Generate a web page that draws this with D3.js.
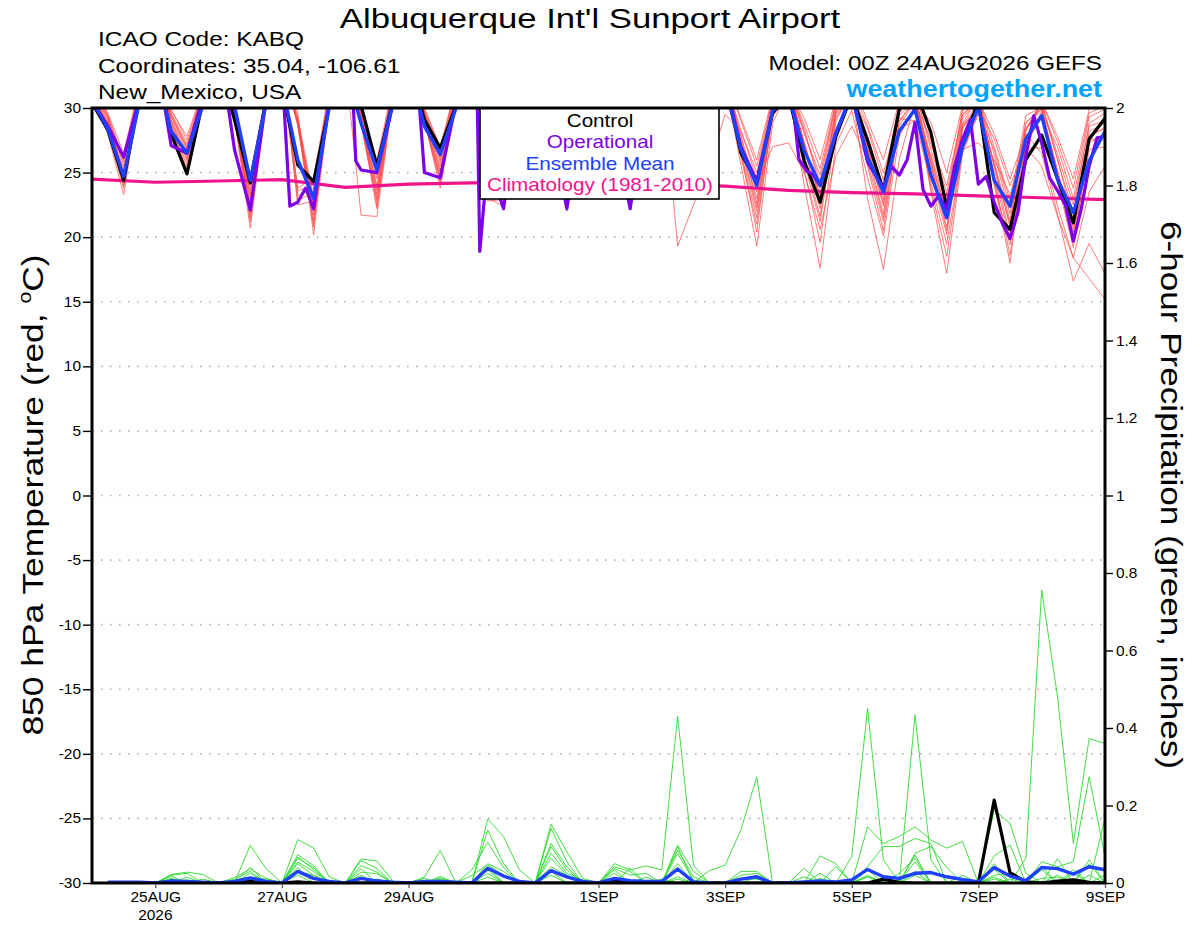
<!DOCTYPE html>
<html><head><meta charset="utf-8">
<script src="https://cdn.jsdelivr.net/npm/d3@7"></script>
<style>body{margin:0;background:#fff} svg{font-family:"Liberation Sans",Arial,Helvetica,sans-serif}</style>
</head><body><svg id="c" width="1200" height="927"></svg>
<script>
// ---------- DATA ----------
const dateTickHours = [24,72,120,192,240,288,336,384];
const dateTickLabels = ["25AUG","27AUG","29AUG","1SEP","3SEP","5SEP","7SEP","9SEP"];
const tempTicks = [-30,-25,-20,-15,-10,-5,0,5,10,15,20,25,30];
const precipTicks = [0,0.2,0.4,0.6,0.8,1,1.2,1.4,1.6,1.8,2];
const legendLabels = ["Control","Operational","Ensemble Mean","Climatology (1981-2010)"];

// 850 hPa temperature, 6-hourly from 00Z 24AUG (65 values)
const controlT = [30.4,28.3,24.4,30.8, 33.4,28.0,24.9,30.5, 33.5,29.1,24.2,30.6, 31.6,25.6,24.3,30.2, 33.3,30.2,25.5,30.5, 33.6,29.1,26.9,30.2, 33.5,29.0,25.0,30.8, 33.4,29.2,24.8,31.0, 33.2,29.0,24.5,30.8, 33.0,28.8,25.0,30.6, 32.1,26.5,24.3,29.6, 31.0,25.9,22.7,27.8, 31.0,27.5,23.6,29.9, 31.5,28.1,22.3,27.3, 30.5,21.9,20.6,26.0, 27.9,24.5,21.1,27.6, 29.2];
const meanT = [30.6,28.4,24.7,30.5, 33.3,28.2,26.5,30.2, 33.4,30.2,24.4,30.4, 31.8,26.0,23.0,30.2, 33.2,28.8,25.2,30.4, 33.4,28.6,26.4,30.0, 33.3,29.0,25.0,30.5, 33.2,29.0,24.8,30.6, 33.0,28.9,24.6,30.5, 32.8,28.6,24.8,30.3, 31.8,26.8,24.0,29.8, 31.0,26.7,24.0,28.1, 31.0,26.2,23.5,28.2, 29.9,24.8,21.5,27.0, 30.1,24.4,22.4,27.6, 29.4,24.5,21.9,25.9, 28.2];
// operational run (hours, values)
const opHours = [0,6,12,18,24,30,36,42,48,51,54,60,66,72,75,78,81,84,90,96,99,100,102,108,114,120,124,126,132,138,144,146,147,150,156,162,168,174,180,186,192,198,204,210,216,222,228,234,240,246,252,258,264,266,268,271,273,276,282,288,294,300,303,306,309,312,315,318,321,324,327,330,333,336,339,342,345,348,351,354,357,360,363,366,369,372,375,378,381,384];
const opT = [30.5,28.6,26.2,30.8,34.5,27.1,26.5,30.8,33.5,31.0,26.8,22.1,30.6,33.0,22.4,22.7,23.8,22.2,30.5,33.0,30.5,25.9,25.2,25.0,30.2,33.0,30.5,25.0,24.6,30.4,33.0,31.0,18.9,26.0,22.2,30.8,33.0,28.5,22.2,30.5,33.0,28.5,22.2,30.5,33.0,28.5,24.5,30.2,32.0,27.0,24.3,29.8,30.6,29.7,26.0,25.1,24.9,24.0,28.0,31.2,25.8,23.8,25.5,24.8,26.0,28.9,23.7,22.4,23.2,22.2,25.5,27.6,29.1,24.1,24.7,22.7,21.1,19.9,21.9,26.3,29.4,27.3,24.6,23.6,22.5,19.7,22.2,25.5,27.7,27.8];
// climatology, daily from 00Z 24AUG
const climT = [24.5,24.25,24.35,24.45,23.85,24.1,24.2,24.2,24.1,24.05,23.95,23.62,23.45,23.35,23.2,23.05,22.9];
// ensemble members (temperature)
const memberT = [
[31.2,28.6,24.0,31.0,33.4,29.0,26.0,30.8,33.6,29.8,23.0,30.6,33.2,28.8,22.0,31.2,33.5,29.4,22.4,30.9,33.8,29.5,25.0,31.3,33.4,29.2,24.5,31.0,33.1,29.0,23.8,31.4,33.0,28.9,25.0,31.1,32.8,28.7,24.5,30.7,32.4,27.8,22.6,30.1,31.8,27.0,23.3,29.6,31.5,26.6,21.8,29.8,31.2,27.2,24.0,29.5,30.8,25.4,20.1,28.4,30.4,26.0,21.9,28.8,29.6],
[30.8,28.9,25.0,31.4,33.2,29.3,26.8,31.2,33.9,30.2,21.5,30.4,33.0,22.8,23.5,31.0,33.4,21.7,21.6,30.7,34.0,29.6,26.0,31.5,33.6,23.0,22.4,30.9,33.3,29.4,24.6,31.2,33.0,29.1,24.2,30.9,32.9,29.5,26.0,31.0,32.2,28.3,24.5,30.5,31.9,26.2,21.6,29.2,31.3,27.8,23.9,30.2,31.0,25.6,20.8,28.8,30.9,27.0,22.8,29.4,30.1,24.2,19.2,27.6,27.5],
[31.0,28.0,23.3,30.9,33.3,28.5,25.5,30.6,33.7,29.9,24.2,31.0,33.4,29.6,20.2,30.5,33.6,28.8,23.0,31.3,33.7,29.0,24.4,30.8,33.5,29.3,25.0,31.2,33.2,28.6,22.0,30.9,33.1,29.4,26.0,31.5,32.7,28.8,23.5,30.8,32.5,26.6,20.4,29.8,31.6,28.0,24.8,30.3,31.8,26.9,22.4,29.6,31.4,26.8,22.9,29.9,30.6,24.2,18.0,27.6,30.5,27.4,23.8,29.6,30.2],
[31.3,29.2,24.5,31.5,33.6,29.6,27.2,31.1,33.5,29.7,22.4,30.8,33.1,23.6,24.0,31.3,33.3,29.2,24.5,31.0,33.9,29.8,26.5,31.6,33.3,28.9,23.6,30.7,33.4,29.7,25.4,31.3,32.9,28.6,23.6,30.6,33.0,29.1,25.0,31.2,32.3,27.9,23.5,30.4,31.4,24.0,17.6,27.2,29.8,24.6,20.1,27.8,30.2,25.8,21.4,28.6,30.0,27.6,24.0,27.0,25.5,21.6,18.4,16.8,15.2],
[31.5,29.4,25.5,31.6,33.2,28.6,26.3,30.5,33.8,29.2,20.7,30.3,33.5,29.0,21.3,30.8,33.2,28.7,22.8,31.1,33.6,29.1,23.8,30.6,33.7,29.6,26.0,31.4,33.0,28.8,22.5,30.8,33.2,29.6,25.5,31.3,32.6,19.3,22.5,25.5,29.5,28.2,25.0,30.6,31.7,27.3,22.8,29.8,32.0,29.0,26.0,30.5,31.0,23.5,17.2,26.5,29.6,25.8,21.3,28.3,30.3,26.4,22.5,28.6,29.0],
[31.1,28.7,24.8,31.2,33.5,28.3,25.8,30.7,33.6,29.6,23.6,31.1,33.4,22.5,22.8,30.6,33.5,29.5,25.2,31.4,33.8,29.3,25.5,31.0,33.2,22.8,22.9,30.8,33.3,29.3,24.0,31.0,33.1,29.0,24.8,31.0,32.8,28.6,24.0,30.5,32.0,25.6,19.3,28.8,31.5,29.2,26.0,30.8,31.2,23.0,17.5,26.0,30.4,27.6,23.4,29.8,30.5,24.0,19.4,27.2,29.8,25.2,20.7,27.9,28.4],
[31.6,29.5,26.0,31.7,33.7,29.9,27.5,31.3,33.4,29.1,22.0,30.5,33.3,28.7,20.8,30.9,33.4,29.1,23.6,31.2,33.9,30.0,27.0,31.7,33.4,29.0,24.0,31.1,33.5,29.8,26.2,31.5,33.0,28.5,23.4,30.6,33.1,29.7,26.5,31.4,31.0,26.8,24.0,27.0,27.3,25.0,20.6,26.3,28.6,26.0,23.4,28.4,29.0,24.2,19.5,26.8,27.3,26.0,23.3,26.9,26.9,22.4,18.4,23.5,25.5],
[31.0,28.4,24.2,31.0,33.3,29.1,26.6,31.0,33.7,30.0,24.8,31.2,33.2,29.3,23.0,31.0,33.6,29.3,24.0,31.2,33.7,29.0,24.8,30.9,33.5,29.5,25.5,31.3,33.1,28.7,22.9,30.8,33.3,29.8,26.5,31.4,32.7,28.9,23.8,30.6,32.3,27.0,22.0,29.9,31.7,28.2,24.3,30.4,31.6,28.6,25.0,29.2,29.0,26.4,22.4,29.4,30.7,25.6,20.8,28.3,30.5,27.8,24.5,29.9,30.5],
[31.4,29.1,25.2,31.3,33.4,28.2,25.3,30.6,33.5,29.4,21.2,30.6,33.3,23.8,24.6,31.5,33.3,28.9,22.2,30.8,33.8,29.7,26.2,31.4,33.3,28.8,23.2,30.9,33.4,29.5,25.0,31.2,33.0,29.0,24.0,30.8,33.0,29.4,25.5,31.1,32.6,29.2,26.0,30.9,31.9,26.9,22.2,29.4,31.4,25.5,20.5,28.9,30.6,28.9,25.0,30.2,30.8,26.4,21.8,28.8,30.2,26.0,21.3,28.2,28.8],
[30.9,28.2,23.8,30.9,33.5,29.4,26.9,31.2,33.6,29.7,23.3,30.9,33.1,28.9,21.7,30.7,33.7,29.8,26.0,31.6,33.7,29.2,25.2,31.1,33.6,29.7,26.5,31.5,33.2,28.9,23.5,30.9,33.2,29.3,25.2,31.2,32.9,29.0,24.2,30.7,32.2,26.6,21.5,29.6,31.8,28.7,25.3,30.5,31.4,27.0,22.9,29.7,30.8,25.0,20.2,28.5,30.2,24.6,18.6,27.0,29.6,27.0,23.0,29.3,29.9],
[31.2,28.8,24.6,31.3,33.6,29.8,27.8,31.4,33.4,29.5,22.7,30.7,33.4,29.1,22.4,31.1,33.4,29.0,23.3,31.0,33.6,28.9,24.2,30.8,33.5,29.4,24.8,31.1,33.3,29.2,24.4,31.2,32.9,28.8,23.8,30.7,32.8,28.7,23.3,30.6,32.4,27.4,23.0,30.2,31.5,25.2,19.6,28.4,31.0,28.4,24.4,30.3,30.9,26.2,21.9,29.2,30.6,28.0,24.5,28.0,26.5,21.8,16.6,19.5,17.2],
[31.5,29.3,25.8,31.5,33.3,28.7,26.1,30.8,33.6,29.3,21.8,30.5,33.2,23.2,23.8,31.4,33.5,29.6,24.8,31.3,33.9,29.9,26.8,31.6,33.4,29.1,23.9,31.0,33.5,29.9,26.0,31.5,33.1,29.6,26.2,31.5,33.0,29.6,25.8,31.3,32.5,29.0,25.5,30.7,31.8,28.4,23.8,30.0,31.2,25.8,21.2,28.6,30.5,23.8,18.5,26.8,29.6,26.8,22.3,28.9,29.9,24.6,20.0,27.3,28.0],
[31.7,29.6,26.5,31.8,33.4,28.9,26.4,30.9,33.7,29.8,24.0,31.0,33.4,28.6,21.0,30.8,33.5,29.7,25.5,31.5,33.8,29.4,25.8,31.2,33.5,29.5,25.2,31.2,33.2,28.8,23.3,30.8,33.1,29.2,24.6,30.9,32.9,28.9,24.7,30.8,32.3,27.2,22.3,29.8,31.6,25.8,21.2,29.0,31.3,26.8,22.6,29.4,30.7,26.0,21.7,28.7,30.4,25.6,21.0,28.3,30.0,25.0,20.4,27.8,28.5],
[31.2,28.9,24.9,31.3,33.5,29.5,27.0,31.2,33.5,29.4,22.2,30.6,33.3,29.0,22.6,31.0,33.4,29.2,23.8,31.1,33.7,29.1,24.6,30.9,33.4,29.2,24.3,31.0,33.4,29.6,25.6,31.4,33.2,29.5,25.8,31.3,33.0,29.8,26.2,31.3,32.1,26.2,21.0,29.3,31.5,27.4,23.0,29.7,31.1,26.3,21.5,29.0,30.7,25.6,20.5,28.4,30.1,24.8,19.8,27.7,29.5,24.6,19.6,26.8,27.0]
];

// 6-hour precipitation (inches), 06Z 24AUG .. 00Z 9SEP (64 values)
const controlP = [0,0,0,0,.004,.002,0,0, 0,.004,0,0,.003,0,0,0, 0,0,0,0,0,0,0,0, 0,0,0,0,0,0,0,0, .008,0,0,0,0,0,0,0, 0,0,0,0,0,0,0,0, 0,.01,.002,0,0,0,0,0, .214,.027,.003,0,.005,.008,.002,0];
const meanP = [.002,.002,.002,0,.005,.004,.002,0, .004,.013,.004,0,.03,.012,.004,0, .012,.005,.002,0,.004,.004,.002,0, .038,.018,.004,0,.032,.016,.004,0, .012,.006,.004,.004,.036,.003,0,0, .01,.016,0,0,.003,.005,.003,.008, .035,.016,.012,.025,.027,.016,.009,.003, .04,.018,.006,.04,.037,.023,.042,.034];
const memberP = [
[0,0,0,0,.022,.028,.022,0, 0,.097,.037,0,.063,.04,0,0, .028,.024,0,0,0,.013,0,0, .165,.12,.034,0,.094,.034,0,0, .025,0,0,0,.098,.03,0,0, 0,0,0,0,0,.07,.05,0, .034,0,0,.434,.06,0,0,0, .02,.025,0,.034,0,.034,0,.167],
[.003,0,0,0,.02,.025,0,0, 0,.041,0,0,.112,.09,.015,0, .062,.057,.005,0,.015,.084,0,0, .137,.05,0,0,.152,.081,.012,0, .05,.034,.044,.034,.43,.046,0,0, .03,.03,0,0,.016,0,0,0, .145,.102,.12,.145,.111,.09,.107,0, .188,.154,.025,0,.063,0,.06,0],
[0,.003,0,0,.018,0,0,0, .014,.036,.012,0,.073,.045,0,0, .058,.037,0,0,0,.017,0,.034, .105,.04,0,0,.141,.055,0,0, .042,.03,0,0,.094,0,.032,.046, .137,.274,0,0,0,.025,0,0, .042,.094,.094,.115,.102,0,0,0, .07,.098,0,.055,.042,.055,.274,.068],
[0,0,0,0,0,.015,0,0, .01,.03,0,0,.067,.035,0,0, .045,.028,0,0,.012,0,0,0, .05,.03,0,0,.102,.042,0,0, .038,.02,.025,0,.085,.016,0,0, .02,.025,0,0,.038,0,0,.068, .45,.06,0,.077,.094,.04,0,0, .05,0,0,.042,0,.025,0,0],
[.002,0,0,0,.012,0,.01,0, 0,.025,0,0,.054,.03,0,0, .037,0,0,0,0,.01,0,.02, .047,.02,0,0,.077,.025,.008,0, .034,0,0,0,.076,.008,0,0, 0,.016,0,0,0,.012,0,0, .02,0,0,.072,0,0,.02,0, 0,0,.064,.756,.481,.102,.373,.36],
[0,0,0,0,0,0,0,0, 0,.015,.01,0,.05,.02,0,0, .02,0,0,0,0,0,0,0, .042,0,0,0,.064,.02,0,0, 0,.038,0,0,.05,0,0,0, 0,0,0,0,0,0,.042,0, .016,0,.025,.064,0,0,0,0, .035,0,0,0,0,0,.05,0],
[0,0,0,0,.01,0,0,0, 0,.01,0,0,.04,0,0,0, .015,0,0,0,0,0,0,0, .034,0,0,0,.042,.02,0,0, 0,0,.015,0,.016,0,0,0, .01,.01,0,0,0,0,0,0, 0,0,0,.055,0,0,0,0, .015,0,0,0,.02,0,0,.02],
[0,0,0,0,0,0,0,0, 0,0,0,0,.03,.02,0,0, 0,.01,0,0,0,0,0,0, .025,0,0,0,.03,0,0,0, 0,0,0,.01,0,0,0,0, 0,0,0,0,0,0,0,0, .016,0,0,.03,0,0,0,0, .01,0,0,0,0,.01,0,0],
[0,0,0,0,0,.008,0,0, 0,.008,0,0,.02,0,0,0, 0,.01,0,0,0,0,0,0, .015,0,0,0,.02,0,0,0, 0,0,0,0,.01,0,0,0, 0,0,0,0,0,0,0,0, 0,0,0,.02,0,0,0,0, 0,.01,0,.012,.015,0,.02,0]
];

// ---------- CHART ----------
const P = {l:92, r:1105, t:108, b:883};
const svg = d3.select("#c");
const x = d3.scaleLinear().domain([0,384]).range([P.l,P.r]);
const yT = d3.scaleLinear().domain([-30,30]).range([P.b,P.t]);
const yP = d3.scaleLinear().domain([0,2]).range([P.b,P.t]);
const tempHours = controlT.map((d,i)=>i*6);
const precipHours = controlP.map((d,i)=>(i+1)*6);
const climHours = climT.map((d,i)=>i*24);

const COL = {red:"#ff4848", green:"#2fd92f", black:"#000", purple:"#7d00e6", blue:"#2040ff", pink:"#f0148c", site:"#00a2ff"};

svg.append("defs").append("clipPath").attr("id","clip")
  .append("rect").attr("x",P.l).attr("y",P.t).attr("width",P.r-P.l).attr("height",P.b-P.t);

// gridlines
svg.append("g").selectAll("line").data(tempTicks.filter(t=>t>-30&&t<30)).join("line")
  .attr("x1",P.l).attr("x2",P.r).attr("y1",d=>yT(d)).attr("y2",d=>yT(d))
  .attr("stroke","#b4b4b4").attr("stroke-width",1.6).attr("stroke-dasharray","1.6,7.4");

const g = svg.append("g").attr("clip-path","url(#clip)");
const lineT = d3.line().x((d,i)=>x(tempHours[i])).y(d=>yT(d));
const lineP = d3.line().x((d,i)=>x(precipHours[i])).y(d=>yP(d));
const lineOp = d3.line().x((d,i)=>x(opHours[i])).y(d=>yT(d));
const lineClim = d3.line().x((d,i)=>x(climHours[i])).y(d=>yT(d));

g.append("g").selectAll("path").data(memberP).join("path")
  .attr("d",lineP).attr("fill","none").attr("stroke",COL.green).attr("stroke-width",0.9);
g.append("g").selectAll("path").data(memberT).join("path")
  .attr("d",lineT).attr("fill","none").attr("stroke",COL.red).attr("stroke-width",0.85).attr("stroke-opacity",0.85);
g.append("path").datum(climT).attr("d",lineClim).attr("fill","none").attr("stroke",COL.pink).attr("stroke-width",3.2);
g.append("path").datum(controlT).attr("d",lineT).attr("fill","none").attr("stroke",COL.black).attr("stroke-width",3.2).attr("stroke-linejoin","round");
g.append("path").datum(controlP).attr("d",lineP).attr("fill","none").attr("stroke",COL.black).attr("stroke-width",3.2).attr("stroke-linejoin","round");
g.append("path").datum(opT).attr("d",lineOp).attr("fill","none").attr("stroke",COL.purple).attr("stroke-width",3.2).attr("stroke-linejoin","round");
g.append("path").datum(meanT).attr("d",lineT).attr("fill","none").attr("stroke",COL.blue).attr("stroke-width",3.4).attr("stroke-linejoin","round");
g.append("path").datum(meanP).attr("d",lineP).attr("fill","none").attr("stroke",COL.blue).attr("stroke-width",3.4).attr("stroke-linejoin","round");

// text helper: horizontally stretched text (the reference font is wider)
function txt(parent, px, py, str, size, sx, anchor, extra){
  const t = parent.append("text")
    .attr("transform",`translate(${px},${py}) scale(${sx},1)`)
    .attr("font-size",size).attr("text-anchor",anchor||"start").text(str);
  if (extra) extra(t);
  return t;
}

// legend
const lg = svg.append("g");
lg.append("rect").attr("x",480).attr("y",P.t).attr("width",239).attr("height",91)
  .attr("fill","#fff").attr("stroke","#000").attr("stroke-width",1.6);
const legendColors = [COL.black, COL.purple, COL.blue, COL.pink];
legendLabels.forEach((d,i)=> txt(lg, 600, 127+i*21.3, d, 17.5, 1.18, "middle", t=>t.attr("fill",legendColors[i])));

// frame
svg.append("rect").attr("x",P.l).attr("y",P.t).attr("width",P.r-P.l).attr("height",P.b-P.t)
  .attr("fill","none").attr("stroke","#000").attr("stroke-width",3);

// axes
const styleAxis = (sel) => {
  sel.select(".domain").remove();
  sel.selectAll("text").attr("font-size",14.3).attr("fill","#000")
     .attr("font-family","'Liberation Sans',Arial,sans-serif");
  sel.selectAll(".tick line").attr("stroke","#000").attr("stroke-width",1.4);
};
const la = svg.append("g").attr("transform",`translate(${P.l-1},0)`)
  .call(d3.axisLeft(yT).tickValues(tempTicks).tickSize(8).tickPadding(2).tickFormat(d=>String(d))).call(styleAxis);
la.selectAll(".tick text").each(function(){ const s=d3.select(this); const xx=+s.attr("x"); s.attr("x",null).attr("transform",`translate(${xx},0) scale(1.08,1)`); });
const ra = svg.append("g").attr("transform",`translate(${P.r+1},0)`)
  .call(d3.axisRight(yP).tickValues(precipTicks).tickSize(7).tickPadding(3).tickFormat(d=>String(+d.toFixed(1)))).call(styleAxis);
ra.selectAll(".tick text").each(function(){ const s=d3.select(this); const xx=+s.attr("x"); s.attr("x",null).attr("transform",`translate(${xx},0) scale(1.08,1)`); });
const ba = svg.append("g").attr("transform",`translate(0,${P.b+1})`)
  .call(d3.axisBottom(x).tickValues(dateTickHours).tickSize(4).tickPadding(4).tickFormat((d,i)=>dateTickLabels[i])).call(styleAxis);
ba.selectAll(".tick text").attr("transform","scale(1.08,1)");
ba.selectAll(".tick line").attr("stroke","#666");
txt(svg, x(dateTickHours[0]), 920, "2026", 14.3, 1.08, "middle");

// titles
txt(svg, 590, 28, "Albuquerque Int'l Sunport Airport", 28, 1.24, "middle");
const info = ["ICAO Code: KABQ","Coordinates: 35.04, -106.61","New_Mexico, USA"];
info.forEach((d,i)=> txt(svg, 98, 46+i*26.5, d, 20, 1.22, "start"));
txt(svg, 1102, 70, "Model: 00Z 24AUG2026 GEFS", 20, 1.21, "end");
txt(svg, 1102, 97, "weathertogether.net", 23, 1.17, "end", t=>t.attr("font-weight","bold").attr("fill",COL.site));

const lt = svg.append("text").attr("transform","translate(43,495) rotate(-90) scale(1.18,1)").attr("text-anchor","middle").attr("font-size",30);
lt.append("tspan").text("850 hPa Temperature (red, ");
lt.append("tspan").attr("font-size",18).attr("dy",-12).text("o");
lt.append("tspan").attr("dy",12).text("C)");
svg.append("text").attr("transform","translate(1161,495) rotate(90) scale(1.17,1)").attr("text-anchor","middle").attr("font-size",30)
  .text("6-hour Precipitation (green, inches)");
</script></body></html>
